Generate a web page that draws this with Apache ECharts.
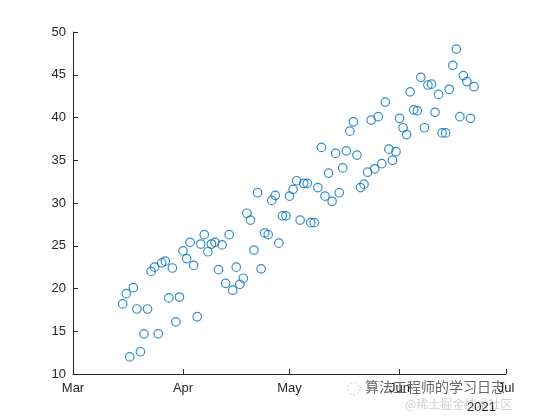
<!DOCTYPE html>
<html>
<head>
<meta charset="utf-8">
<script src="https://cdn.jsdelivr.net/npm/echarts@6/dist/echarts.min.js"></script>
<style>
  html, body { margin: 0; padding: 0; background: #fff; }
  #main { width: 560px; height: 420px; }
</style>
</head>
<body>
<div id="main"></div>
<script>
// one point per day, starting 2021-03-15
const startDate = '2021-03-15'
const values = [
  18.2, 19.4, 12.0, 20.1, 17.6, 12.6, 14.7, 17.6, 22.0, 22.5,
  14.7, 23.0, 23.2, 18.9, 22.4, 16.1, 19.0, 24.4, 23.5, 25.4,
  22.7, 16.7, 25.2, 26.3, 24.3, 25.2, 25.4, 22.2, 25.1, 20.6,
  26.3, 19.8, 22.5, 20.5, 21.2, 28.8, 28.0, 24.5, 31.2, 22.3,
  26.5, 26.3, 30.3, 30.9, 25.3, 28.5, 28.5, 30.8, 31.6, 32.6,
  28.0, 32.3, 32.3, 27.7, 27.7, 31.8, 36.5, 30.8, 33.5, 30.2,
  35.8, 31.2, 34.1, 36.1, 38.4, 39.5, 35.6, 31.8, 32.2, 33.6,
  39.7, 34.0, 40.1, 34.6, 41.8, 36.3, 35.0, 36.0, 39.9, 38.8,
  38.0, 43.0, 40.9, 40.8, 44.7, 38.8, 43.8, 43.9, 40.6, 42.7,
  38.2, 38.2, 43.3, 46.1, 48.0, 40.1, 44.9, 44.2, 39.9, 43.6
]
const monthLabels = ['Jan', 'Feb', 'Mar', 'Apr', 'May', 'Jun', 'Jul', 'Aug', 'Sep', 'Oct', 'Nov', 'Dec']
const yearLabel = '2021'

const dayMs = 24 * 3600 * 1000
const t0 = Date.UTC(2021, 2, 15)
const points = values.map((v, i) => [t0 + i * dayMs, v])

const textColor = '#262626'
const font = 'Arial, "Liberation Sans", Helvetica, sans-serif'

let chart = echarts.init(document.getElementById('main'), null, { renderer: 'canvas' })
chart.setOption({
  animation: false,
  backgroundColor: '#fff',
  useUTC: true,
  grid: { left: 73, right: 54, top: 32, bottom: 46 },
  xAxis: {
    type: 'time',
    min: Date.UTC(2021, 2, 1),
    max: Date.UTC(2021, 6, 1),
    splitNumber: 4,
    axisLine: { show: true, lineStyle: { color: textColor, width: 1 } },
    axisTick: { show: true, inside: true, length: 5, lineStyle: { color: textColor } },
    splitLine: { show: false },
    axisLabel: {
      color: textColor,
      fontFamily: font,
      fontSize: 13,
      margin: 8,
      hideOverlap: false,
      showMinLabel: true,
      showMaxLabel: true,
      formatter: function (val) {
        return monthLabels[new Date(val).getUTCMonth()]
      }
    }
  },
  yAxis: {
    type: 'value',
    min: 10,
    max: 50,
    interval: 5,
    axisLine: { show: true, lineStyle: { color: textColor, width: 1 } },
    axisTick: { show: true, inside: true, length: 5, lineStyle: { color: textColor } },
    splitLine: { show: false },
    axisLabel: { color: textColor, fontFamily: font, fontSize: 13, margin: 7 }
  },
  series: [{
    type: 'scatter',
    data: points,
    symbol: 'circle',
    symbolSize: 8.5,
    itemStyle: { color: 'rgba(0,0,0,0)', borderColor: '#0072BD', borderWidth: 1.2 }
  }],
  graphic: [
    { type: 'text', left: 467, top: 401, style: { text: yearLabel, fill: textColor, font: '13px ' + font } },
    { type: 'text', left: 405, top: 398, style: { text: '@稀土掘金技术社区', fill: 'rgba(150,150,150,0.45)', font: '12px "Noto Sans CJK SC"' } },
    { type: 'circle', shape: { cx: 354, cy: 389, r: 6 }, style: { fill: 'none', stroke: 'rgba(150,150,150,0.5)', lineWidth: 1, lineDash: [2, 2] } },
    { type: 'text', left: 364, top: 379, style: { text: '算法工程师的学习日志', fill: '#666', stroke: 'rgba(255,255,255,0.8)', lineWidth: 2, font: '14px "Noto Sans CJK SC"' } }
  ]
})
</script>
</body>
</html>
